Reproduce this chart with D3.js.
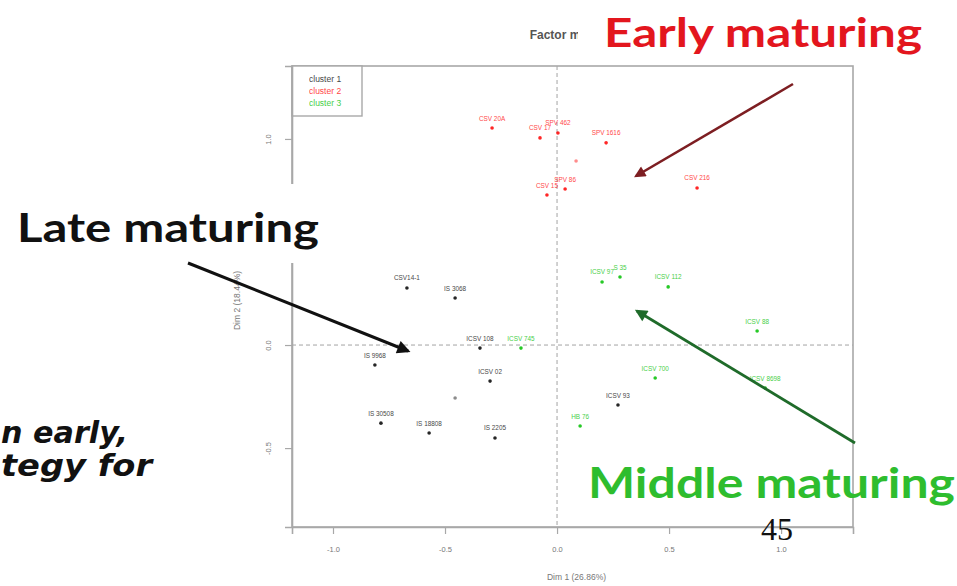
<!DOCTYPE html>
<html>
<head>
<meta charset="utf-8">
<script src="https://cdn.jsdelivr.net/npm/d3@7"></script>
<style>
  html, body { margin: 0; padding: 0; background: #fff; }
  svg { display: block; }
</style>
</head>
<body>
<svg id="chart" width="957" height="586"></svg>
<script>
// Cluster names and colours (legend)
const clusterNames = ["cluster 1", "cluster 2", "cluster 3"];
const clusterColors = ["#000000", "#ff0000", "#00c000"];

// Individuals on the first factorial plane, per cluster
const c1Labels = ["CSV14-1", "IS 3068", "ICSV 108", "IS 9968", "ICSV 02", "", "IS 30508", "IS 18808", "IS 2205", "ICSV 93"];
const c1Dim1   = [-0.670, -0.455, -0.344, -0.813, -0.299, -0.455, -0.786, -0.571, -0.277, 0.272];
const c1Dim2   = [ 0.277,  0.228, -0.015, -0.097, -0.175, -0.257, -0.379, -0.427, -0.451, -0.291];

const c2Labels = ["CSV 20A", "CSV 17", "SPV 462", "SPV 1616", "", "CSV 15", "SPV 86", "CSV 216"];
const c2Dim1   = [-0.290, -0.076, 0.004, 0.219, 0.085, -0.045, 0.036, 0.625];
const c2Dim2   = [ 1.053,  1.005, 1.029, 0.981, 0.893,  0.728, 0.757, 0.762];

const c3Labels = ["ICSV 745", "ICSV 97", "S 35", "ICSV 112", "ICSV 88", "ICSV 700", "ICSV 8698", "HB 76"];
const c3Dim1   = [-0.161, 0.201, 0.281, 0.496, 0.893, 0.438, 0.929, 0.103];
const c3Dim2   = [-0.015, 0.306, 0.330, 0.282, 0.068, -0.160, -0.209, -0.393];

// Axis ticks and titles
const xTicks = [-1.0, -0.5, 0.0, 0.5, 1.0];
const yTicks = [-0.5, 0.0, 0.5, 1.0];
const xTitle = "Dim 1 (26.86%)";
const yTitle = "Dim 2 (18.44%)";
const plotTitle = "Factor map";

const clusters = [
  { labels: c1Labels, d1: c1Dim1, d2: c1Dim2 },
  { labels: c2Labels, d1: c2Dim1, d2: c2Dim2 },
  { labels: c3Labels, d1: c3Dim1, d2: c3Dim2 }
];

const svg = d3.select("#chart");
const plot = { left: 292, right: 853, top: 66, bottom: 527 };

const x = d3.scaleLinear().domain([-1.183, 1.321]).range([plot.left, plot.right]);
const y = d3.scaleLinear().domain([-0.883, 1.354]).range([plot.bottom, plot.top]);

const axisGrey = "#a8a8a8";
const tickText = "#777";

svg.append("rect").attr("width", 957).attr("height", 586).attr("fill", "#fff");

// Reference lines through the origin
svg.append("line")
  .attr("x1", plot.left).attr("x2", plot.right)
  .attr("y1", y(0)).attr("y2", y(0))
  .attr("stroke", "#9a9a9a").attr("stroke-width", 0.9).attr("stroke-dasharray", "4,3");
svg.append("line")
  .attr("x1", x(0)).attr("x2", x(0))
  .attr("y1", plot.top).attr("y2", plot.bottom)
  .attr("stroke", "#9a9a9a").attr("stroke-width", 0.9).attr("stroke-dasharray", "4,3");

// Individuals: point plus name above it
clusters.forEach((c, ci) => {
  const rows = c.labels.map((lab, i) => ({ lab, d1: c.d1[i], d2: c.d2[i] }));
  const g = svg.append("g");
  g.selectAll("circle").data(rows).join("circle")
    .attr("cx", d => x(d.d1)).attr("cy", d => y(d.d2))
    .attr("r", 1.8)
    .attr("fill", clusterColors[ci])
    .attr("opacity", d => d.lab === "" ? 0.45 : 0.85);
  g.selectAll("text").data(rows).join("text")
    .attr("x", d => x(d.d1)).attr("y", d => y(d.d2) - 7.5)
    .attr("text-anchor", "middle")
    .attr("font-family", "Liberation Sans, Arial, sans-serif")
    .attr("font-size", 6.4)
    .attr("fill", clusterColors[ci])
    .attr("opacity", 0.75)
    .text(d => d.lab);
});

// Plot frame
svg.append("rect")
  .attr("x", plot.left).attr("y", plot.top)
  .attr("width", plot.right - plot.left).attr("height", plot.bottom - plot.top)
  .attr("fill", "none").attr("stroke", axisGrey).attr("stroke-width", 1.6);

// Legend in the top-left corner
const lg = svg.append("g");
lg.append("rect")
  .attr("x", plot.left).attr("y", plot.top)
  .attr("width", 70).attr("height", 50)
  .attr("fill", "#fff").attr("stroke", axisGrey).attr("stroke-width", 1.4);
lg.selectAll("text").data(clusterNames).join("text")
  .attr("x", plot.left + 17).attr("y", (d, i) => plot.top + 16 + i * 12)
  .attr("font-family", "Liberation Sans, Arial, sans-serif")
  .attr("font-size", 8.5)
  .attr("fill", (d, i) => clusterColors[i])
  .attr("opacity", 0.75)
  .text(d => d);

// Axes
const fmt = d => d.toFixed(1);
const xAxis = svg.append("g")
  .attr("transform", `translate(0,${plot.bottom})`)
  .call(d3.axisBottom(x).tickValues(xTicks).tickFormat(fmt).tickSize(7).tickPadding(13));
const yAxis = svg.append("g")
  .attr("transform", `translate(${plot.left},0)`)
  .call(d3.axisLeft(y).tickValues(yTicks).tickFormat(fmt).tickSize(7).tickPadding(10));
[xAxis, yAxis].forEach(a => {
  a.select(".domain").attr("stroke", axisGrey).attr("stroke-width", 1.6);
  a.selectAll(".tick line").attr("stroke", axisGrey).attr("stroke-width", 1.2);
  a.selectAll(".tick text")
    .attr("fill", tickText)
    .attr("font-family", "Liberation Sans, Arial, sans-serif")
    .attr("font-size", 7.5);
});
// R-style y labels run parallel to the axis
yAxis.selectAll(".tick text")
  .attr("text-anchor", "middle")
  .attr("transform", "rotate(-90)")
  .attr("x", 0).attr("dy", 0)
  .attr("y", -21);

svg.append("text")
  .attr("x", (plot.left + plot.right) / 2 + 4).attr("y", 580)
  .attr("text-anchor", "middle")
  .attr("font-family", "Liberation Sans, Arial, sans-serif")
  .attr("font-size", 8.5).attr("fill", tickText)
  .text(xTitle);
svg.append("text")
  .attr("transform", `translate(240,${(plot.top + plot.bottom) / 2 + 4}) rotate(-90)`)
  .attr("text-anchor", "middle")
  .attr("font-family", "Liberation Sans, Arial, sans-serif")
  .attr("font-size", 8.5).attr("fill", tickText)
  .text(yTitle);

svg.append("text")
  .attr("x", 562).attr("y", 39)
  .attr("text-anchor", "middle")
  .attr("font-family", "Liberation Sans, Arial, sans-serif")
  .attr("font-weight", "bold")
  .attr("font-size", 12).attr("fill", "#555")
  .text(plotTitle);

// Annotation call-outs (opaque text boxes over the chart)
svg.append("rect").attr("x", 578).attr("y", 4).attr("width", 362).attr("height", 58).attr("fill", "#fff");
svg.append("rect").attr("x", 6).attr("y", 184).attr("width", 325).attr("height", 79).attr("fill", "#fff");

const calloutFont = "Lato, 'Open Sans', sans-serif";
svg.append("text")
  .attr("x", 604).attr("y", 47)
  .attr("font-family", calloutFont).attr("font-weight", "bold")
  .attr("font-size", 41).attr("fill", "#e3161e")
  .attr("textLength", 318).attr("lengthAdjust", "spacingAndGlyphs")
  .text("Early maturing");
svg.append("text")
  .attr("x", 17).attr("y", 242)
  .attr("font-family", calloutFont).attr("font-weight", "bold")
  .attr("font-size", 41).attr("fill", "#111")
  .attr("textLength", 302).attr("lengthAdjust", "spacingAndGlyphs")
  .text("Late maturing");
svg.append("text")
  .attr("x", 588).attr("y", 498)
  .attr("font-family", calloutFont).attr("font-weight", "bold")
  .attr("font-size", 42).attr("fill", "#2ebd2e")
  .attr("textLength", 367).attr("lengthAdjust", "spacingAndGlyphs")
  .text("Middle maturing");

// Fragment of body text along the left edge
const bodyFont = "'DejaVu Sans', Verdana, sans-serif";
svg.append("text")
  .attr("x", 1).attr("y", 443)
  .attr("font-family", bodyFont).attr("font-weight", "bold").attr("font-style", "italic")
  .attr("font-size", 30).attr("fill", "#111")
  .attr("textLength", 127).attr("lengthAdjust", "spacingAndGlyphs")
  .text("n early,");
svg.append("text")
  .attr("x", 1).attr("y", 476)
  .attr("font-family", bodyFont).attr("font-weight", "bold").attr("font-style", "italic")
  .attr("font-size", 30).attr("fill", "#111")
  .attr("textLength", 151).attr("lengthAdjust", "spacingAndGlyphs")
  .text("tegy for");

// Slide number
svg.append("text")
  .attr("x", 777).attr("y", 540).attr("text-anchor", "middle")
  .attr("font-family", "'Liberation Serif', 'Times New Roman', serif")
  .attr("font-size", 32).attr("fill", "#111")
  .text("45");

// Arrows pointing from each call-out into its group
const defs = svg.append("defs");
function arrow(id, color, x1, y1, x2, y2, w) {
  defs.append("marker")
    .attr("id", id).attr("viewBox", "0 0 10 10")
    .attr("refX", 8).attr("refY", 5)
    .attr("markerWidth", 5.2).attr("markerHeight", 4.4)
    .attr("markerUnits", "strokeWidth")
    .attr("orient", "auto")
    .append("path").attr("d", "M0,0 L10,5 L0,10 Z").attr("fill", color);
  svg.append("line")
    .attr("x1", x1).attr("y1", y1).attr("x2", x2).attr("y2", y2)
    .attr("stroke", color).attr("stroke-width", w)
    .attr("marker-end", `url(#${id})`);
}
arrow("arrRed", "#7d1e22", 793, 84, 636, 176, 2.6);
arrow("arrBlack", "#111", 188, 263, 408, 351, 3);
arrow("arrGreen", "#1f6b2a", 855, 443, 637, 311, 2.8);
</script>
</body>
</html>
